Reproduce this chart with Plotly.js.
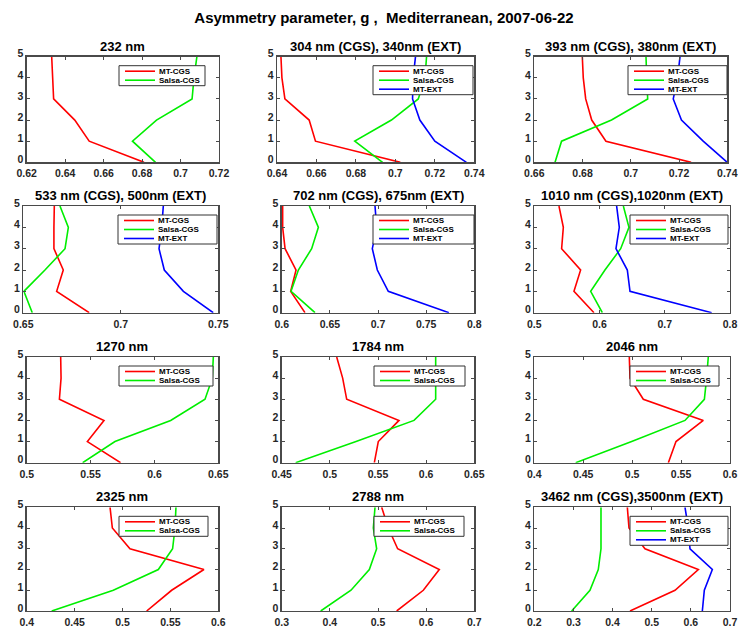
<!DOCTYPE html>
<html><head><meta charset="utf-8">
<script src="https://cdn.plot.ly/plotly-3.0.1.min.js"></script>
<style>html,body{margin:0;padding:0;background:#fff;}#chart{width:738px;height:628px;}</style>
</head><body><div id="chart"></div>
<script>
// ---------------- data ----------------
const mainTitle = 'Asymmetry parameter, g ,  Mediterranean, 2007-06-22';
const altitude = [0, 1, 2, 3, 4, 5];
const panelTitles = [
  '232 nm', '304 nm (CGS), 340nm (EXT)', '393 nm (CGS), 380nm (EXT)',
  '533 nm (CGS), 500nm (EXT)', '702 nm (CGS), 675nm (EXT)', '1010 nm (CGS),1020nm (EXT)',
  '1270 nm', '1784 nm', '2046 nm',
  '2325 nm', '2788 nm', '3462 nm (CGS),3500nm (EXT)'
];
const seriesNames = ['MT-CGS', 'Salsa-CGS', 'MT-EXT'];
const mtCGS = [
  [0.681, 0.6525, 0.645, 0.634, 0.6335, 0.633],
  [0.7025, 0.6595, 0.6563, 0.644, 0.6425, 0.642],
  [0.725, 0.6897, 0.6838, 0.6813, 0.6803, 0.6799],
  [0.6838, 0.6671, 0.6705, 0.6657, 0.6657, 0.6659],
  [0.6242, 0.6093, 0.6149, 0.6035, 0.601, 0.601],
  [0.5915, 0.5608, 0.571, 0.5419, 0.5445, 0.5378],
  [0.5735, 0.5475, 0.5605, 0.5256, 0.5269, 0.5266],
  [0.5462, 0.5503, 0.5718, 0.5175, 0.5133, 0.5071],
  [0.537, 0.5448, 0.5727, 0.5114, 0.4978, 0.4971],
  [0.5252, 0.5513, 0.585, 0.5078, 0.4894, 0.487],
  [0.5388, 0.5941, 0.6273, 0.5408, 0.5215, 0.5076],
  [0.4445, 0.5595, 0.6191, 0.4828, 0.4419, 0.4377]
];
const salsaCGS = [
  [0.687, 0.675, 0.6875, 0.706, 0.707, 0.7085],
  [0.6935, 0.6794, 0.698, 0.7116, 0.715, 0.7158],
  [0.6686, 0.6713, 0.692, 0.707, 0.7066, 0.7063],
  [0.6546, 0.6503, 0.6611, 0.6714, 0.6731, 0.6688],
  [0.6346, 0.6097, 0.6173, 0.6311, 0.6381, 0.6287],
  [0.6043, 0.5864, 0.6083, 0.6324, 0.6451, 0.6365],
  [0.5438, 0.5691, 0.6127, 0.6396, 0.6453, 0.6461],
  [0.4645, 0.5272, 0.5874, 0.6099, 0.6099, 0.6099],
  [0.4423, 0.4995, 0.554, 0.5738, 0.5761, 0.5778],
  [0.4261, 0.4904, 0.5374, 0.5523, 0.5548, 0.5558],
  [0.381, 0.4439, 0.482, 0.4972, 0.4903, 0.4938],
  [0.2954, 0.3422, 0.3635, 0.3704, 0.3704, 0.3704]
];
const mtEXT = [
  null,
  [0.736, 0.72, 0.7124, 0.7087, 0.709, 0.7102],
  [0.74, 0.73, 0.721, 0.7176, 0.7194, 0.7204],
  [0.7474, 0.7321, 0.7223, 0.7196, 0.721, 0.7218],
  [0.7737, 0.7107, 0.6993, 0.6941, 0.6986, 0.6969],
  [0.7719, 0.6467, 0.6426, 0.6252, 0.6303, 0.6262],
  null, null, null, null, null,
  [0.6293, 0.6344, 0.6549, 0.5978, 0.5935, 0.585]
];
const xTicks = [
  [0.62, 0.64, 0.66, 0.68, 0.7, 0.72],
  [0.64, 0.66, 0.68, 0.7, 0.72, 0.74],
  [0.66, 0.68, 0.7, 0.72, 0.74],
  [0.65, 0.7, 0.75],
  [0.6, 0.65, 0.7, 0.75, 0.8],
  [0.5, 0.6, 0.7, 0.8],
  [0.5, 0.55, 0.6, 0.65],
  [0.45, 0.5, 0.55, 0.6, 0.65],
  [0.4, 0.45, 0.5, 0.55, 0.6],
  [0.4, 0.45, 0.5, 0.55, 0.6],
  [0.3, 0.4, 0.5, 0.6, 0.7],
  [0.2, 0.3, 0.4, 0.5, 0.6, 0.7]
];
const yTicks = [0, 1, 2, 3, 4, 5];

// ---------------- layout config (pixels) ----------------
const W = 738, H = 628;
const rowsPx = [[56.7, 162.3], [206, 312.7], [357, 462.7], [507.3, 611]];
const colsPx = [
  [[26.7, 219], [277, 474.3], [534.3, 727.3]],
  [[23.3, 218.3], [281.7, 474.3], [534.3, 730]],
  [[26.7, 218.3], [281.7, 474.3], [534.3, 730]],
  [[26.7, 218.3], [281.7, 474.3], [534.3, 730]]
];
const legendBox = [[119, 205], [373, 473], [628, 727], [118, 217], [373, 474], [630, 728],
                   [119, 213], [374, 465], [630, 719], [119, 208], [374, 464], [630, 728]];
const colors = ['#ff0000', '#00ee00', '#0000ff'];
const FONT = 'Liberation Sans, Arial, Helvetica, sans-serif';

const px = v => v / W;
const py = v => 1 - v / H;

const traces = [];
const layout = {
  width: W, height: H,
  margin: {l: 0, r: 0, t: 0, b: 0},
  paper_bgcolor: '#fff', plot_bgcolor: '#fff',
  showlegend: false,
  title: {text: mainTitle, x: px(384), y: py(18), xanchor: 'center', yanchor: 'middle',
          font: {family: FONT, size: 15, color: '#000', weight: 'bold'}},
  annotations: [], shapes: []
};

for (let i = 0; i < 12; i++) {
  const r = Math.floor(i / 3), c = i % 3;
  const [top, bot] = rowsPx[r];
  const [lft, rgt] = colsPx[r][c];
  const sfx = i === 0 ? '' : String(i + 1);
  const series = [mtCGS[i], salsaCGS[i], mtEXT[i]];
  series.forEach((vals, k) => {
    if (!vals) return;
    traces.push({
      x: vals, y: altitude, name: seriesNames[k],
      xaxis: 'x' + sfx, yaxis: 'y' + sfx, mode: 'lines',
      line: {color: colors[k], width: 1.6}, showlegend: false, hoverinfo: 'x+y'
    });
  });
  const axCommon = {
    showline: true, mirror: 'ticks', linecolor: '#4a4a4a', linewidth: 1.3,
    ticks: 'inside', ticklen: 3, tickcolor: '#4a4a4a', tickwidth: 1,
    showgrid: false, zeroline: false, fixedrange: true
  };
  const xt = xTicks[i];
  layout['xaxis' + sfx] = Object.assign({}, axCommon, {
    domain: [px(lft), px(rgt)], anchor: 'y' + sfx, ticklabelstandoff: 1,
    range: [xt[0], xt[xt.length - 1]], tickvals: xt, ticktext: xt.map(String),
    tickfont: {family: FONT, size: 10.5, color: '#262626', weight: 'bold'}
  });
  layout['yaxis' + sfx] = Object.assign({}, axCommon, {
    domain: [py(bot), py(top)], anchor: 'x' + sfx, ticklabelshift: -3,
    range: [0, 5], tickvals: yTicks, ticktext: yTicks.map(String),
    tickfont: {family: FONT, size: 10.5, color: '#262626', weight: 'bold'}
  });
  // subplot title
  layout.annotations.push({
    text: panelTitles[i], xref: 'paper', yref: 'paper',
    x: px((lft + rgt) / 2), y: py(top - 10.5), xanchor: 'center', yanchor: 'middle',
    showarrow: false, font: {family: FONT, size: 13, color: '#000', weight: 'bold'}
  });
  // legend box (drawn as in the source figure)
  const n = series.filter(Boolean).length;
  const [bl, br] = legendBox[i];
  const bt = top + 9;
  const bb = bt + (n === 3 ? 29 : 20);
  layout.shapes.push({type: 'rect', xref: 'paper', yref: 'paper',
    x0: px(bl), x1: px(br), y0: py(bb), y1: py(bt),
    fillcolor: '#fff', line: {color: '#333', width: 1}, layer: 'above'});
  let row = 0;
  series.forEach((vals, k) => {
    if (!vals) return;
    const yy = bt + 5.5 + row * 9;
    layout.shapes.push({type: 'line', xref: 'paper', yref: 'paper',
      x0: px(bl + 6), x1: px(bl + 36), y0: py(yy), y1: py(yy),
      line: {color: colors[k], width: 1.6}, layer: 'above'});
    layout.annotations.push({text: seriesNames[k], xref: 'paper', yref: 'paper',
      x: px(bl + 38), y: py(yy), xanchor: 'left', yanchor: 'middle', showarrow: false,
      font: {family: FONT, size: 8, color: '#000', weight: 'bold'}});
    row++;
  });
}

Plotly.newPlot('chart', traces, layout, {staticPlot: true, displayModeBar: false});
</script>
</body></html>
